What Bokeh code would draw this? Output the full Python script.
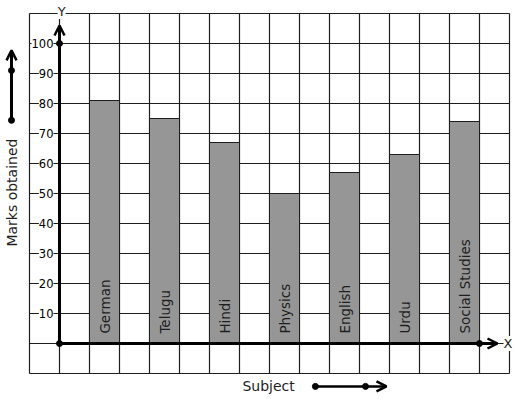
import numpy as np
from bokeh.plotting import figure
from bokeh.models import Range1d, Arrow, OpenHead
from bokeh.core.properties import value
from bokeh.embed import file_html
from bokeh.resources import INLINE

# ---- data ----
subjects = ["German", "Telugu", "Hindi", "Physics", "English", "Urdu", "Social Studies"]
marks = [81, 75, 67, 50, 57, 63, 74]
y_tick_values = [10, 20, 30, 40, 50, 60, 70, 80, 90, 100]
y_tick_labels = ["10", "20", "30", "40", "50", "60", "70", "80", "90", "100"]
x_title = "Subject"
y_title = "Marks obtained"

FONT = value("DejaVu Sans")
INK = "#1e1e1e"

p = figure(width=517, height=399,
           x_range=Range1d(-59 / 30, 458 / 30), y_range=Range1d(-56 / 3, 343 / 3),
           output_backend="svg", toolbar_location=None,
           x_axis_type=None, y_axis_type=None, min_border=0)
p.outline_line_color = None
p.grid.visible = False

# grid paper
gx = list(range(-1, 16))
gy = list(range(-10, 111, 10))
p.segment(x0=gx, y0=[-10] * len(gx), x1=gx, y1=[110] * len(gx), line_color=INK, line_width=1.2)
p.segment(x0=[-1] * len(gy), y0=gy, x1=[15] * len(gy), y1=gy, line_color=INK, line_width=1.2)

# bars
centers = [2 * i + 1.5 for i in range(len(subjects))]
p.vbar(x=centers, top=marks, bottom=0, width=1, fill_color="#969696", line_color=INK, line_width=1)

# bar labels
p.text(x=centers, y=[3.3] * len(subjects), text=subjects, angle=np.pi / 2,
       text_align="left", text_baseline="middle", text_font=FONT,
       text_font_size="13.5px", text_color=INK)

# axes lines with arrows
p.add_layout(Arrow(end=OpenHead(size=10, line_width=2.5, line_color="black"),
                   x_start=0, y_start=0, x_end=0, y_end=106,
                   line_width=3, line_color="black"))
p.add_layout(Arrow(end=OpenHead(size=10, line_width=2.5, line_color="black"),
                   x_start=0, y_start=0, x_end=14.6, y_end=0,
                   line_width=3, line_color="black"))
p.scatter(x=[0, 0, 14], y=[0, 100, 0], size=6, color="black")

# tick labels
p.text(x=[-0.2] * len(y_tick_values), y=y_tick_values, text=y_tick_labels,
       text_align="right", text_baseline="middle", text_font=FONT,
       text_font_size="11.5px", text_color="black",
       background_fill_color="white")

# axis letters
p.text(x=[0.07], y=[110.7], text=["Y"], text_align="center", text_baseline="middle",
       text_font=FONT, text_font_size="13px", text_color=INK, background_fill_color="white")
p.text(x=[14.95], y=[0], text=["X"], text_align="center", text_baseline="middle",
       text_font=FONT, text_font_size="13px", text_color=INK, background_fill_color="white")

# y title and arrow
p.text(x=[-1.6], y=[50.3], text=[y_title], angle=np.pi / 2, text_align="center",
       text_baseline="middle", text_font=FONT, text_font_size="14px", text_color=INK)
p.add_layout(Arrow(end=OpenHead(size=10, line_width=2.5, line_color="black"),
                   x_start=-1.6, y_start=74.4, x_end=-1.6, y_end=97.7,
                   line_width=3, line_color="black"))
p.scatter(x=[-1.6, -1.6], y=[74.4, 91], size=6, color="black")

# x title and arrow
p.text(x=[6.97], y=[-14.1], text=[x_title], text_align="center", text_baseline="middle",
       text_font=FONT, text_font_size="14px", text_color=INK)
p.add_layout(Arrow(end=OpenHead(size=10, line_width=2.5, line_color="black"),
                   x_start=8.53, y_start=-14.3, x_end=10.9, y_end=-14.3,
                   line_width=2.5, line_color="black"))
p.scatter(x=[8.53, 10.2], y=[-14.3, -14.3], size=6, color="black")

open("out.html", "w").write(file_html(p, INLINE))
